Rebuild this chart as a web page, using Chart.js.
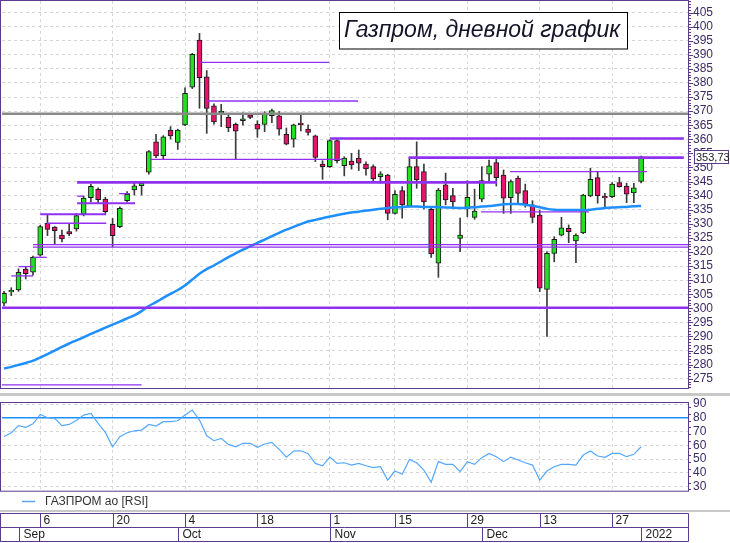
<!DOCTYPE html>
<html>
<head>
<meta charset="utf-8">
<script src="https://cdn.jsdelivr.net/npm/chart.js@4.4.1/dist/chart.umd.min.js"></script>
<style>
    html, body { margin: 0; padding: 0; background: #fff; }
    #wrap { position: relative; width: 730px; height: 543px; overflow: hidden; }
    #wrap canvas { position: absolute; left: 0; }
</style>
</head>
<body>
<div id="wrap">
    <canvas id="price" width="730" height="396" style="top:0;width:730px;height:396px"></canvas>
    <canvas id="rsi" width="730" height="147" style="top:396px;width:730px;height:147px"></canvas>
</div>
<script>
// trading days, Aug 30 2021 .. Jan 3 2022 (Nov 4 holiday)
var dates = [
    '2021-08-30', '2021-08-31', '2021-09-01', '2021-09-02', '2021-09-03',
    '2021-09-06', '2021-09-07', '2021-09-08', '2021-09-09', '2021-09-10',
    '2021-09-13', '2021-09-14', '2021-09-15', '2021-09-16', '2021-09-17',
    '2021-09-20', '2021-09-21', '2021-09-22', '2021-09-23', '2021-09-24',
    '2021-09-27', '2021-09-28', '2021-09-29', '2021-09-30', '2021-10-01',
    '2021-10-04', '2021-10-05', '2021-10-06', '2021-10-07', '2021-10-08',
    '2021-10-11', '2021-10-12', '2021-10-13', '2021-10-14', '2021-10-15',
    '2021-10-18', '2021-10-19', '2021-10-20', '2021-10-21', '2021-10-22',
    '2021-10-25', '2021-10-26', '2021-10-27', '2021-10-28', '2021-10-29',
    '2021-11-01', '2021-11-02', '2021-11-03', '2021-11-05',
    '2021-11-08', '2021-11-09', '2021-11-10', '2021-11-11', '2021-11-12',
    '2021-11-15', '2021-11-16', '2021-11-17', '2021-11-18', '2021-11-19',
    '2021-11-22', '2021-11-23', '2021-11-24', '2021-11-25', '2021-11-26',
    '2021-11-29', '2021-11-30', '2021-12-01', '2021-12-02', '2021-12-03',
    '2021-12-06', '2021-12-07', '2021-12-08', '2021-12-09', '2021-12-10',
    '2021-12-13', '2021-12-14', '2021-12-15', '2021-12-16', '2021-12-17',
    '2021-12-20', '2021-12-21', '2021-12-22', '2021-12-23', '2021-12-24',
    '2021-12-27', '2021-12-28', '2021-12-29', '2021-12-30', '2022-01-03'
];

var openP = [
    301.8, 305.8, 306.5, 313.9, 312.8, 318.9, 330.2, 328.8, 326.0, 327.2,
    328.2, 333.4, 339.3, 342.2, 338.8, 329.8, 329.0, 338.2, 342.0, 343.5,
    348.3, 359.1, 354.2, 363.3, 358.9, 365.1, 378.5, 395.2, 382.2, 371.9,
    369.4, 367.8, 365.3, 366.6, 368.7, 365.4, 365.3, 368.4, 368.3, 361.8,
    360.0, 365.4, 363.6, 361.2, 351.2, 350.3, 359.5, 350.6, 352.3, 353.3,
    351.2, 350.3, 346.7, 347.3, 333.7, 341.8, 336.3, 350.3, 348.5, 335.1,
    316.0, 343.8, 340.0, 324.8, 335.3, 332.3, 338.7, 347.6, 351.7, 347.3,
    339.3, 346.2, 341.8, 336.7, 333.1, 306.7, 319.5, 326.0, 328.4, 323.9,
    326.8, 339.9, 346.4, 339.4, 339.6, 344.6, 343.4, 341.0, 345.0
];
var highP = [
    306.0, 307.3, 314.0, 314.8, 318.5, 329.5, 333.1, 329.0, 327.8, 330.2,
    333.6, 339.9, 344.0, 342.8, 339.4, 331.9, 336.0, 341.4, 344.7, 344.8,
    356.0, 361.8, 361.3, 364.5, 363.6, 378.3, 390.5, 397.6, 384.4, 372.6,
    372.4, 369.0, 365.8, 369.4, 369.0, 366.6, 369.8, 370.7, 369.8, 364.0,
    365.4, 369.0, 365.1, 361.5, 352.4, 359.8, 360.3, 353.8, 355.0, 356.2,
    352.0, 350.9, 348.5, 347.6, 341.8, 343.2, 353.6, 359.1, 351.2, 336.0,
    342.6, 348.0, 342.6, 332.0, 345.3, 342.3, 350.3, 352.6, 353.3, 349.1,
    345.6, 346.9, 344.1, 338.2, 334.9, 320.1, 325.4, 332.3, 329.6, 326.4,
    340.5, 349.7, 348.5, 340.8, 344.6, 346.5, 344.4, 344.4, 354.0
];
var lowP = [
    300.8, 304.5, 306.0, 310.4, 311.8, 318.5, 325.8, 322.7, 323.6, 325.8,
    327.4, 332.8, 337.8, 337.3, 333.6, 321.9, 328.6, 337.8, 340.2, 340.2,
    347.6, 353.5, 353.0, 360.1, 356.4, 364.8, 378.0, 371.0, 362.1, 365.4,
    364.5, 362.7, 352.9, 365.0, 367.3, 360.7, 362.7, 365.9, 361.5, 358.0,
    357.2, 363.0, 361.5, 352.1, 345.8, 350.0, 351.6, 347.0, 349.4, 348.9,
    347.3, 344.8, 344.4, 331.4, 333.4, 332.0, 336.0, 342.6, 335.3, 318.1,
    311.0, 336.7, 336.1, 320.1, 332.5, 331.6, 337.8, 345.0, 343.4, 333.7,
    333.7, 337.2, 335.9, 330.4, 305.9, 290.0, 316.5, 325.7, 323.3, 316.2,
    326.5, 339.6, 337.3, 335.9, 339.3, 343.0, 337.5, 337.5, 344.5
];
var closeP = [
    305.3, 306.0, 312.8, 312.3, 318.1, 329.0, 328.0, 327.6, 324.6, 326.4,
    332.9, 339.1, 343.3, 338.6, 334.3, 325.8, 335.5, 340.5, 343.5, 344.4,
    355.6, 354.1, 360.9, 361.2, 363.3, 376.3, 390.2, 381.9, 371.0, 366.2,
    369.9, 364.1, 362.9, 367.3, 367.8, 363.6, 369.0, 370.2, 363.6, 358.3,
    365.1, 365.2, 362.4, 353.6, 350.3, 359.5, 352.4, 353.3, 350.9, 351.5,
    349.5, 345.9, 347.7, 333.7, 340.5, 336.7, 350.3, 345.6, 337.8, 319.3,
    342.0, 338.5, 337.8, 326.0, 339.4, 334.5, 345.3, 350.6, 346.4, 339.1,
    345.0, 340.8, 337.0, 332.3, 307.1, 319.5, 324.5, 328.6, 327.2, 326.0,
    340.2, 345.8, 340.0, 339.2, 344.1, 343.2, 340.5, 342.8, 353.73
];

// moving average
var maLine = [
    278.6, 279.2, 279.9, 280.6, 281.4, 282.5, 283.7, 285.0, 286.3, 287.5,
    288.6, 289.7, 290.9, 292.0, 293.1, 294.2, 295.3, 296.4, 297.5, 299.0,
    300.8, 302.2, 303.7, 305.1, 306.5, 308.1, 310.2, 312.3, 313.9, 315.2,
    316.7, 318.2, 319.5, 320.8, 322.0, 323.2, 324.4, 325.6, 326.8, 327.9,
    328.9, 329.9, 330.8, 331.4, 332.0, 332.6, 333.1, 333.6, 334.0, 334.3,
    334.7, 335.0, 335.3, 335.6, 335.8, 336.0, 336.1, 336.1, 336.0, 336.0,
    335.9, 335.8, 335.7, 335.6, 335.7, 335.9, 336.1, 336.3, 336.6, 336.9,
    337.0, 337.0, 336.8, 336.4, 335.9, 335.3, 335.0, 334.9, 334.9, 334.9,
    334.9, 335.0, 335.3, 335.6, 335.8, 335.9, 336.0, 336.2, 336.3
];

var rsiValues = [
    66.5, 69.2, 74.3, 73.1, 75.7, 82.5, 80.1, 79.6, 74.3, 75.2,
    78.1, 82.0, 83.2, 76.0, 69.4, 59.0, 66.3, 69.2, 70.6, 71.1,
    75.2, 74.0, 77.2, 77.2, 77.9, 82.0, 85.6, 78.4, 67.0, 63.4,
    65.1, 60.7, 59.0, 61.5, 61.5, 58.6, 61.0, 62.2, 57.1, 51.5,
    55.9, 56.1, 54.0, 46.9, 45.2, 51.5, 46.9, 47.4, 45.7, 46.9,
    45.2, 43.8, 44.5, 34.8, 41.4, 39.0, 49.8, 47.4, 42.1, 33.2,
    48.2, 46.2, 46.2, 40.9, 48.2, 46.2, 51.1, 54.2, 51.8, 48.2,
    51.5, 49.4, 47.4, 45.7, 34.8, 41.4, 44.5, 46.2, 46.2, 45.7,
    53.0, 55.9, 52.3, 51.3, 54.2, 54.2, 51.8, 53.5, 59.0
];
var rsiLevel = 80;

var priceTicks = [275, 280, 285, 290, 295, 300, 305, 310, 315, 320, 325, 330, 335, 340,
    345, 350, 355, 360, 365, 370, 375, 380, 385, 390, 395, 400, 405];
var rsiTicks = [30, 40, 50, 60, 70, 80, 90];

var dayTickDates = ['2021-09-06', '2021-09-20', '2021-10-04', '2021-10-18', '2021-11-01',
    '2021-11-15', '2021-11-29', '2021-12-13', '2021-12-27'];
var dayTickLabels = ['6', '20', '4', '18', '1', '15', '29', '13', '27'];
var monthDates = ['2021-09-01', '2021-10-01', '2021-11-01', '2021-12-01', '2022-01-03'];
var monthLabels = ['Sep', 'Oct', 'Nov', 'Dec', '2022'];

// drawn support / resistance levels: price and span in bar numbers
var levelValue = [369.1, 387.3, 373.6, 352.9, 360.3, 353.5, 344.7, 348.5, 334.2, 322.6, 321.7,
    300.2, 272.8, 340.7, 339.8, 337.3, 333.4, 330.2, 318.1, 314.8, 311.5];
var levelFrom = [-0.3, 27.1, 28.0, 20.2, 45.0, 55.9, 10.1, 69.9, 65.9, 4.0, 4.0,
    -0.3, -0.3, 15.9, 10.1, 10.1, 5.0, 5.9, 4.0, 2.0, 1.0];
var levelTo = [94.5, 44.9, 48.9, 46.8, 93.9, 93.9, 68.1, 88.8, 80.8, 94.5, 94.5,
    94.5, 19.0, 17.4, 10.9, 18.1, 14.1, 14.1, 5.9, 4.0, 4.0];

var lastPrice = 353.73;
var titleText = 'Газпром, дневной график';
var legendText = 'ГАЗПРОМ ао [RSI]';

// ---- styles ----
var green = '#22e022';
var red = '#e8146c';
var purple = '#9230f0';
var frameColor = '#5b3c8c';
var gridColor = '#d6d6d6';
var sepColor = '#c8c8c8';
var levelWidth = [2.5, 1.3, 1.3, 1.3, 2.6, 2.6, 2.6, 1.3, 1.3, 1.3, 1.3,
    2.6, 1.3, 1.3, 1.3, 2.2, 2, 1.3, 1.3, 1.3, 1.3];

Chart.defaults.font.family = '"Liberation Sans", Arial, sans-serif';
Chart.defaults.font.size = 12;
Chart.defaults.color = '#3c2a66';

var xMin = -0.28, xMax = 94.48;

function dayIndex(d) {
    return dates.indexOf(d);
}

function xAxisOptions() {
    return {
        type: 'linear',
        min: xMin,
        max: xMax,
        offset: false,
        afterBuildTicks: function (s) {
            s.ticks = dayTickDates.map(function (d) { return {value: dayIndex(d)}; });
        },
        afterFit: function (s) {
            s.height = 0;
            s.paddingLeft = 0;
            s.paddingRight = 0;
        },
        ticks: {display: false},
        grid: {color: gridColor, drawTicks: false, offset: false},
        border: {display: false, dash: [3, 3]}
    };
}

function yAxisOptions(min, max, tickList) {
    return {
        position: 'right',
        min: min,
        max: max,
        afterBuildTicks: function (s) {
            s.ticks = tickList.map(function (v) { return {value: v}; });
        },
        afterFit: function (s) {
            s.width = 42;
            s.paddingTop = 0;
            s.paddingBottom = 0;
        },
        ticks: {padding: 5, color: '#3c2a66', font: {size: 12}, autoSkip: false},
        grid: {color: gridColor, drawTicks: false},
        border: {display: false, dash: [3, 3]}
    };
}

function drawAxisTicks(ctx, area, scale, minorEvery, majorEvery) {
    ctx.strokeStyle = frameColor;
    ctx.lineWidth = 1;
    for (var v = Math.ceil(scale.min); v <= scale.max; v += minorEvery) {
        var py = Math.round(scale.getPixelForValue(v)) + 0.5;
        var len = (v % majorEvery === 0) ? 5 : 3;
        ctx.beginPath();
        ctx.moveTo(area.right, py);
        ctx.lineTo(area.right + len, py);
        ctx.stroke();
    }
}

var idx = dates.map(function (d, i) { return i; });

var levelSets = levelValue.map(function (v, k) {
    return {
        type: 'line',
        data: [{x: levelFrom[k], y: v}, {x: levelTo[k], y: v}],
        borderColor: k === 0 ? '#8a8a8a' : purple,
        borderWidth: levelWidth[k],
        pointRadius: 0,
        order: -2
    };
});

var priceDecor = {
    id: 'priceDecor',
    afterDraw: function (chart) {
        var ctx = chart.ctx, a = chart.chartArea, y = chart.scales.y;
        ctx.save();
        ctx.strokeStyle = frameColor;
        ctx.lineWidth = 1;
        ctx.strokeRect(0.5, 0.5, a.right, a.bottom);
        drawAxisTicks(ctx, a, y, 1, 5);

        // last price tag
        var py = Math.round(y.getPixelForValue(lastPrice));
        ctx.fillStyle = '#fff';
        ctx.fillRect(694.5, py - 6.5, 34, 13);
        ctx.strokeStyle = frameColor;
        ctx.strokeRect(694.5, py - 6.5, 34, 13);
        ctx.fillStyle = '#222';
        ctx.font = '11px "Liberation Sans", Arial, sans-serif';
        ctx.textAlign = 'left';
        ctx.textBaseline = 'middle';
        ctx.fillText(lastPrice.toFixed(2).replace('.', ','), 696, py + 0.5);

        // title box
        ctx.fillStyle = '#fff';
        ctx.fillRect(339.5, 12.5, 288, 36.5);
        ctx.strokeStyle = '#000';
        ctx.strokeRect(339.5, 12.5, 288, 36.5);
        ctx.fillStyle = '#141428';
        ctx.font = 'italic 23px "Liberation Sans", Arial, sans-serif';
        ctx.textAlign = 'center';
        ctx.fillText(titleText, 482, 31);

        ctx.fillStyle = sepColor;
        ctx.fillRect(0, 393, chart.width, 3);
        ctx.restore();
    }
};

new Chart(document.getElementById('price'), {
    type: 'bar',
    data: {
        datasets: levelSets.concat([
            {
                type: 'line',
                data: idx.map(function (i) { return {x: i, y: maLine[i]}; }),
                borderColor: '#1e8fff',
                borderWidth: 2.5,
                pointRadius: 0,
                tension: 0.2,
                order: -1
            },
            {
                data: idx.map(function (i) { return {x: i, y: [openP[i], closeP[i]]}; }),
                backgroundColor: idx.map(function (i) { return closeP[i] >= openP[i] ? green : red; }),
                borderColor: '#1a1a1a',
                borderWidth: 1,
                borderSkipped: false,
                barThickness: 5,
                minBarLength: 1.5,
                grouped: false,
                order: 0
            },
            {
                data: idx.map(function (i) { return {x: i, y: [lowP[i], highP[i]]}; }),
                backgroundColor: '#3a3a3a',
                barThickness: 1,
                grouped: false,
                order: 1
            }
        ])
    },
    options: {
        responsive: false,
        animation: false,
        layout: {autoPadding: false, padding: {left: 2, top: 1, right: 0, bottom: 8}},
        plugins: {legend: {display: false}, tooltip: {enabled: false}},
        scales: {
            x: xAxisOptions(),
            y: yAxisOptions(271.7, 409.1, priceTicks)
        }
    },
    plugins: [priceDecor]
});

var rsiDecor = {
    id: 'rsiDecor',
    afterDraw: function (chart) {
        var ctx = chart.ctx, a = chart.chartArea, x = chart.scales.x;
        ctx.save();
        ctx.strokeStyle = frameColor;
        ctx.lineWidth = 1;
        ctx.strokeRect(0.5, a.top + 0.5, a.right, a.bottom - a.top);
        drawAxisTicks(ctx, a, chart.scales.y, 5, 10);

        // legend
        ctx.strokeStyle = '#55a8ff';
        ctx.lineWidth = 1.5;
        ctx.beginPath();
        ctx.moveTo(22, 105.5);
        ctx.lineTo(35, 105.5);
        ctx.stroke();
        ctx.fillStyle = '#333';
        ctx.font = '12px "Liberation Sans", Arial, sans-serif';
        ctx.textAlign = 'left';
        ctx.textBaseline = 'middle';
        ctx.fillText(legendText, 45, 106);

        ctx.fillStyle = sepColor;
        ctx.fillRect(0, 114, chart.width, 2);

        // date axis, two rows
        var r1 = 117.5, r2 = 131.5, r3 = 145.5, right = a.right + 0.5;
        ctx.strokeStyle = frameColor;
        ctx.lineWidth = 1;
        ctx.beginPath();
        [r1, r2, r3].forEach(function (ry) {
            ctx.moveTo(0, ry);
            ctx.lineTo(right, ry);
        });
        ctx.moveTo(0.5, r1); ctx.lineTo(0.5, r3);
        ctx.moveTo(right, r1); ctx.lineTo(right, r3);
        ctx.stroke();

        ctx.fillStyle = '#202020';
        dayTickDates.forEach(function (d, k) {
            var px = Math.round(x.getPixelForValue(dayIndex(d))) + 0.5;
            ctx.beginPath();
            ctx.moveTo(px, r1);
            ctx.lineTo(px, r2);
            ctx.stroke();
            ctx.fillText(dayTickLabels[k], px + 3, 124.5);
        });
        monthDates.forEach(function (d, k) {
            var px = Math.round(x.getPixelForValue(dayIndex(d))) + 0.5;
            ctx.beginPath();
            ctx.moveTo(px, r2);
            ctx.lineTo(px, r3);
            ctx.stroke();
            ctx.fillText(monthLabels[k], px + 4, 138.5);
        });
        ctx.restore();
    }
};

new Chart(document.getElementById('rsi'), {
    type: 'line',
    data: {
        datasets: [
            {
                data: idx.map(function (i) { return {x: i, y: rsiValues[i]}; }),
                borderColor: '#55a8ff',
                borderWidth: 1.2,
                pointRadius: 0,
                tension: 0
            },
            {
                data: [{x: xMin, y: rsiLevel}, {x: xMax, y: rsiLevel}],
                borderColor: '#1e8fff',
                borderWidth: 1.5,
                pointRadius: 0
            }
        ]
    },
    options: {
        responsive: false,
        animation: false,
        layout: {autoPadding: false, padding: {left: 2, top: 6, right: 0, bottom: 52.3}},
        plugins: {legend: {display: false}, tooltip: {enabled: false}},
        scales: {
            x: xAxisOptions(),
            y: yAxisOptions(27.1, 91.5, rsiTicks)
        }
    },
    plugins: [rsiDecor]
});
</script>
</body>
</html>
